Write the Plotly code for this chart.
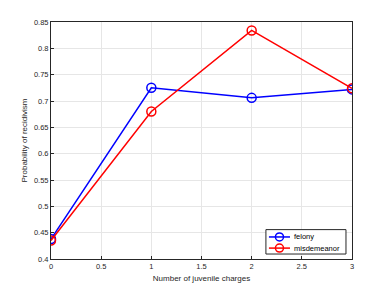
import plotly.graph_objects as go

charges = [0, 1, 2, 3]
felony = [0.438, 0.725, 0.706, 0.722]
misdemeanor = [0.435, 0.680, 0.834, 0.724]
series_names = ["felony", "misdemeanor"]
series_colors = ["#0000ff", "#ff0000"]
x_ticks = [0, 0.5, 1, 1.5, 2, 2.5, 3]
x_tick_labels = ["0", "0.5", "1", "1.5", "2", "2.5", "3"]
y_ticks = [0.4, 0.45, 0.5, 0.55, 0.6, 0.65, 0.7, 0.75, 0.8, 0.85]
y_tick_labels = ["0.4", "0.45", "0.5", "0.55", "0.6", "0.65", "0.7", "0.75", "0.8", "0.85"]

FONT = "Liberation Sans, Arial"
fig = go.Figure()
for name, vals, col in zip(series_names, [felony, misdemeanor], series_colors):
    fig.add_trace(go.Scatter(x=charges, y=vals, name=name, mode="lines+markers",
                             line=dict(color=col, width=1.5),
                             marker=dict(symbol="circle-open", size=9, color=col, line=dict(width=1.5)),
                             showlegend=False))

axis_common = dict(showgrid=True, gridcolor="#e6e6e6", gridwidth=1, showline=True, linecolor="#262626",
                   linewidth=1, mirror=True, ticks="inside", ticklen=3, tickcolor="#262626",
                   tickfont=dict(family=FONT, size=7.5, color="#262626"), zeroline=False,
                   automargin=False)

# compact MATLAB-style legend (decoration, in plot-area paper coordinates)
shapes = [dict(type="rect", xref="paper", yref="paper", x0=0.714, x1=0.980, y0=0.021, y1=0.124,
               line=dict(color="#262626", width=1), fillcolor="white", layer="above")]
annotations = []
item_y = [0.093, 0.046]
for name, col, yy in zip(series_names, series_colors, item_y):
    shapes.append(dict(type="line", xref="paper", yref="paper", x0=0.724, x1=0.794, y0=yy, y1=yy,
                       line=dict(color=col, width=1.5), layer="above"))
    shapes.append(dict(type="circle", xref="paper", yref="paper", xsizemode="pixel", ysizemode="pixel",
                       xanchor=0.759, yanchor=yy, x0=-4, x1=4, y0=-4, y1=4,
                       line=dict(color=col, width=1.5), fillcolor="rgba(0,0,0,0)", layer="above"))
    annotations.append(dict(text=name, xref="paper", yref="paper", x=0.802, y=yy, xanchor="left",
                            yanchor="middle", showarrow=False, font=dict(family=FONT, size=7.5, color="#000000")))

fig.update_layout(
    width=389, height=292,
    margin=dict(l=51, r=37, t=22, b=33),
    paper_bgcolor="white", plot_bgcolor="white",
    xaxis=dict(range=[0, 3], tickvals=x_ticks, ticktext=x_tick_labels,
               title=dict(text="Number of juvenile charges", standoff=5,
                          font=dict(family=FONT, size=8, color="#262626")),
               **axis_common),
    yaxis=dict(range=[0.4, 0.85], tickvals=y_ticks, ticktext=y_tick_labels,
               title=dict(text="Probability of recidivism", standoff=5,
                          font=dict(family=FONT, size=8, color="#262626")),
               **axis_common),
    shapes=shapes,
    annotations=annotations,
    showlegend=False,
)

fig.write_html("out.html", config={"displayModeBar": False},
               post_script="document.body.style.margin='0';document.body.style.padding='0';")
